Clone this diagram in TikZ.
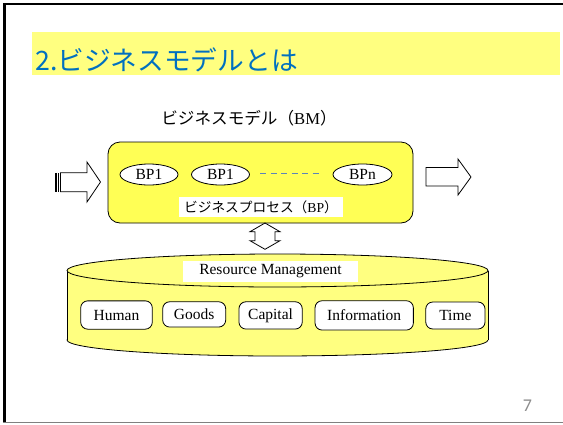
\documentclass[tikz,border=0pt]{standalone}
\usepackage{fontspec}
\setmainfont{Liberation Serif}
\newfontfamily\cjk{Noto Sans CJK JP}
\newfontfamily\carl{Carlito}
\usetikzlibrary{shapes.geometric}
\definecolor{titleblue}{HTML}{0070C0}
\definecolor{bandyellow}{HTML}{FFFF80}
\definecolor{boxyellow}{HTML}{FFFF55}
\definecolor{cylyellow}{HTML}{FFFF80}
\definecolor{dashblue}{HTML}{5B84B8}
\definecolor{pagegray}{HTML}{8C8C8C}
\tikzset{
  outl/.style={draw=black, line width=0.8pt},
  bpell/.style={ellipse, outl, fill=white, inner sep=0pt, minimum height=21pt, font=\fontsize{15.5}{17}\selectfont},
  resbox/.style={rectangle, rounded corners=7pt, outl, fill=white, inner sep=0pt, minimum height=28pt, font=\fontsize{15.5}{17}\selectfont},
  whitelabel/.style={rectangle, fill=white, inner sep=0pt},
  blockarrow/.style={outl, fill=white, line join=miter}
}
\begin{document}
\begin{tikzpicture}[x=1pt,y=-1pt]
\useasboundingbox (0,0) rectangle (563,424);
% frame
\fill[black] (3,3) rectangle (563,5.3);
\fill[black] (3,3) rectangle (6,423);
\draw[gray, line width=1pt] (3,422.5) -- (563,422.5);
% title band
\fill[bandyellow] (32,32) rectangle (560,75);
\node[anchor=base west, inner sep=0pt, text=titleblue, font=\cjk\fontsize{26.7}{30}\selectfont] (title) at (35,70) {2.ビジネスモデルとは};
% subtitle
\node[inner sep=0pt, font=\fontsize{16.6}{19}\selectfont] (sub) at (249,118) {{\cjk ビジネスモデル（}BM{\cjk ）}};
% business model box
\node[rectangle, rounded corners=12pt, outl, fill=boxyellow, minimum width=305pt, minimum height=81pt, inner sep=0pt] (bm) at (260.5,182.5) {};
\node[bpell, minimum width=58pt] (bp1) at (149,174.5) {BP1};
\node[bpell, minimum width=58pt] (bp2) at (220.5,174.5) {BP1};
\node[bpell, minimum width=59pt] (bpn) at (362.5,174.5) {BPn};
\draw[dashblue, line width=1.2pt, dash pattern=on 6pt off 4.5pt] (260,173.5) -- (322,173.5);
\node[whitelabel, minimum width=164pt, minimum height=20pt, font=\fontsize{13.7}{15}\selectfont] (bplabel) at (261,207) {{\cjk ビジネスプロセス（}BP{\cjk ）}};
% left striped arrow
\fill[black] (55,172.7) rectangle (57,191.7);
\fill[black] (58.2,172.7) rectangle (59.2,191.7);
\draw[blockarrow] (60.5,172.7) -- (87,172.7) -- (87,162) -- (100.5,182) -- (87,202) -- (87,191.7) -- (60.5,191.7) -- cycle;
% right arrow
\draw[blockarrow] (426,167.5) -- (458,167.5) -- (458,159) -- (471,177) -- (458,195) -- (458,186) -- (426,186) -- cycle;
% cylinder
\draw[outl, fill=cylyellow] (277.5,340) ellipse [x radius=210.5, y radius=16];
\fill[cylyellow] (67,270.5) rectangle (488,340);
\draw[outl] (67,270.5) -- (67,340) (488,270.5) -- (488,340);
\draw[outl, fill=cylyellow] (277.5,270.5) ellipse [x radius=210.5, y radius=16.5];
\node[whitelabel, minimum width=175pt, minimum height=21pt, font=\fontsize{15.5}{17}\selectfont] (rm) at (270.5,271.5) {Resource Management};
% double arrow between bm and cylinder
\coordinate (dtop) at (265,223);
\coordinate (dbot) at (265,249.3);
\draw[blockarrow] (dtop) -- ++(15,8.7) -- ++(-5,0) -- ++(0,9) -- ++(5,0) -- (dbot) -- ++(-15,-8.6) -- ++(5,0) -- ++(0,-9) -- ++(-5,0) -- cycle;
% resources
\node[resbox, minimum width=71.6pt, minimum height=28.3pt] (human) at (116.5,315) {Human};
\node[resbox, minimum width=63pt, minimum height=25.3pt] (goods) at (194.2,314.4) {Goods};
\node[resbox, minimum width=63.3pt, minimum height=27.3pt] (capital) at (270.6,315.4) {Capital};
\node[resbox, minimum width=98.3pt, minimum height=29.3pt] (info) at (364.2,315.4) {Information};
\node[resbox, minimum width=59.3pt, minimum height=27pt] (time) at (455.4,315.5) {Time};
% page number
\node[inner sep=0pt, text=pagegray, font=\carl\fontsize{18}{20}\selectfont] (page) at (527.5,405.5) {7};
\end{tikzpicture}
\end{document}
